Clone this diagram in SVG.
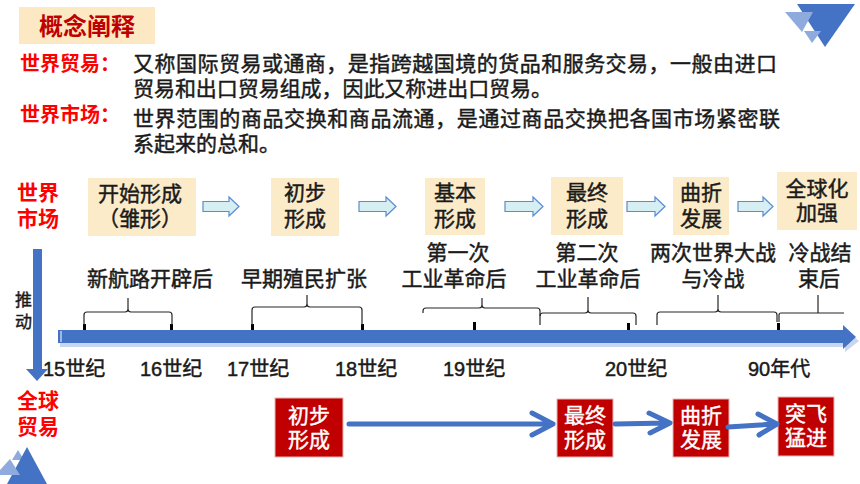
<svg xmlns="http://www.w3.org/2000/svg" width="860" height="484" viewBox="0 0 860 484">
<style>
text{font-family:'Liberation Sans','Noto Sans CJK SC',sans-serif;}
.t{font-size:21px;fill:#1a1a1a;stroke:#1a1a1a;stroke-width:0.45px;}
.red{font-size:20px;fill:#ff0000;font-weight:bold;}
.title{font-size:24px;fill:#c00000;font-weight:bold;}
.beige{fill:#fcebc8;}
.bt{font-size:21px;fill:#1a1a1a;stroke:#1a1a1a;stroke-width:0.45px;text-anchor:middle;}
.rbox{fill:#c00000;stroke:#eab4b4;stroke-width:1;}
.wt{font-size:21px;fill:#ffffff;stroke:#ffffff;stroke-width:0.4px;text-anchor:middle;}
.lab{font-size:21px;fill:#1a1a1a;stroke:#1a1a1a;stroke-width:0.45px;text-anchor:middle;}
.cen{font-size:20px;fill:#1a1a1a;stroke:#1a1a1a;stroke-width:0.45px;}
.brace{fill:none;stroke:#262626;stroke-width:1.2;}
.tick{fill:#000000;}
.hollow{fill:#d6eff2;stroke:#5b8bd0;stroke-width:1.2;}
.conn{fill:none;stroke:#4472c4;stroke-width:5;stroke-linecap:round;stroke-linejoin:round;}
.dark{fill:#4472c4;}
.light{fill:#8faadc;}
</style>

<!-- decorations -->
<g id="deco-top-right">
<polygon class="dark" points="797,4 855,4 825,47"/>
<polygon class="light" points="785,12 813,12 802,32"/>
<polygon class="light" points="804,31 821,31 812,43"/>
</g>
<g id="deco-bottom-left">
<polygon class="light" points="18,450 24,460 12,460"/>
<polygon class="dark" points="27,447 47,484 7,484"/>
<polygon class="light" points="10,459 20,475 0,475 0,470"/>
</g>

<!-- header -->
<g id="title">
<rect x="19" y="7" width="136" height="37" fill="#fce9c3"/>
<text class="title" x="87" y="35" text-anchor="middle">概念阐释</text>
</g>

<g id="definitions">
<text class="red" x="20" y="70.5">世界贸易：</text>
<text class="t" x="133" y="71" textLength="644" lengthAdjust="spacing">又称国际贸易或通商，是指跨越国境的货品和服务交易，一般由进口</text>
<text class="t" x="133" y="96" textLength="419" lengthAdjust="spacing">贸易和出口贸易组成，因此又称进出口贸易。</text>
<text class="red" x="20" y="121.5">世界市场：</text>
<text class="t" x="133" y="126" textLength="647" lengthAdjust="spacing">世界范围的商品交换和商品流通，是通过商品交换把各国市场紧密联</text>
<text class="t" x="133" y="151">系起来的总和。</text>
</g>

<!-- row labels -->
<g id="label-world-market">
<text class="red" x="17" y="200" style="font-size:21px">世界</text>
<text class="red" x="17" y="226" style="font-size:21px">市场</text>
</g>
<g id="label-global-trade">
<text class="red" x="17" y="408" style="font-size:21px">全球</text>
<text class="red" x="17" y="434" style="font-size:21px">贸易</text>
</g>

<!-- world market stages -->
<g id="stage-1">
<rect class="beige" x="88" y="178" width="108" height="58"/>
<text class="bt" x="140" y="201">开始形成</text>
<text class="bt" x="140" y="226">（雏形）</text>
</g>
<g id="stage-2">
<rect class="beige" x="271" y="178" width="68" height="58"/>
<text class="bt" x="305" y="200">初步</text>
<text class="bt" x="305" y="226">形成</text>
</g>
<g id="stage-3">
<rect class="beige" x="425" y="178" width="60" height="57"/>
<text class="bt" x="455" y="200">基本</text>
<text class="bt" x="455" y="226">形成</text>
</g>
<g id="stage-4">
<rect class="beige" x="551" y="177" width="72" height="58"/>
<text class="bt" x="587" y="200">最终</text>
<text class="bt" x="587" y="226">形成</text>
</g>
<g id="stage-5">
<rect class="beige" x="673" y="177" width="56" height="58"/>
<text class="bt" x="701" y="200">曲折</text>
<text class="bt" x="701" y="226">发展</text>
</g>
<g id="stage-6">
<rect class="beige" x="777" y="172" width="80" height="58"/>
<text class="bt" x="817" y="195.5">全球化</text>
<text class="bt" x="817" y="220">加强</text>
</g>

<!-- period labels -->
<g id="period-labels">
<text class="lab" x="150" y="285.5">新航路开辟后</text>
<text class="lab" x="304" y="285.5">早期殖民扩张</text>
<text class="lab" x="458" y="260">第一次</text>
<text class="lab" x="454" y="285.5">工业革命后</text>
<text class="lab" x="587" y="260">第二次</text>
<text class="lab" x="588" y="285.5">工业革命后</text>
<text class="lab" x="713" y="260">两次世界大战</text>
<text class="lab" x="713" y="285.5">与冷战</text>
<text class="lab" x="820" y="260">冷战结</text>
<text class="lab" x="819" y="285.5">束后</text>
</g>

<!-- push arrow -->
<g id="push-arrow">
<rect class="dark" x="33" y="249" width="9" height="121"/>
<polygon class="dark" points="26,369 48,369 37,381"/>
<text x="15" y="306" style="font-size:17px;fill:#1a1a1a;stroke:#1a1a1a;stroke-width:0.4px">推</text>
<text x="15" y="328" style="font-size:17px;fill:#1a1a1a;stroke:#1a1a1a;stroke-width:0.4px">动</text>
</g>

<!-- timeline -->
<g id="timeline">
<polygon fill="#c8d6f0" points="60,333 845,333 845,329 859,341 845,352 845,347 60,347"/>
<polygon class="dark" points="58,330 843,330 843,325 856,337 843,349 843,343 58,343"/>
<line x1="61" y1="331" x2="61" y2="342" stroke="#dfe8f7" stroke-width="1.2"/>
<rect class="tick" x="83" y="324" width="3" height="6"/>
<rect class="tick" x="170" y="324" width="3" height="6"/>
<rect class="tick" x="251" y="324" width="3" height="6"/>
<rect class="tick" x="361" y="324" width="3" height="6"/>
<rect class="tick" x="473" y="322" width="3" height="8"/>
<rect class="tick" x="627" y="323" width="3" height="7"/>
<rect class="tick" x="777" y="323" width="3" height="7"/>
<text class="cen" x="43" y="376">15世纪</text>
<text class="cen" x="140" y="376">16世纪</text>
<text class="cen" x="227" y="376">17世纪</text>
<text class="cen" x="335" y="376">18世纪</text>
<text class="cen" x="443" y="376">19世纪</text>
<text class="cen" x="605" y="376">20世纪</text>
<text class="cen" x="748" y="376">90年代</text>
</g>

<!-- braces -->
<g id="braces">
<path class="brace" d="M84,325 L84,315 Q84,312 87,312 L125,312 Q128,312 128,309 L128,298 M128,309 Q128,312 131,312 L169,312 Q172,312 172,315 L172,325"/>
<path class="brace" d="M252,325 L252,310 Q252,307 255,307 L304,307 Q307,307 307,304 L307,295 M307,304 Q307,307 310,307 L359,307 Q362,307 362,310 L362,325"/>
<path class="brace" d="M423,313 L423,311 Q423,308 426,308 L479,308 Q482,308 482,305 L482,298 M482,305 Q482,308 485,308 L537,308 Q540,308 540,311 L540,325"/>
<path class="brace" d="M540,316 Q540,313 543,313 L585,313 Q588,313 588,310 L588,297 M588,310 Q588,313 591,313 L633,313 Q636,313 636,316 L636,325"/>
<path class="brace" d="M657,325 L657,315 Q657,312 660,312 L715,312 Q718,312 718,309 L718,295 M718,309 Q718,312 721,312 L774,312 Q777,312 777,315 L777,322"/>
<path class="brace" d="M779,322 L779,315 Q779,313 781,313 L844,313 M818,313 L818,295"/>
</g>

<!-- hollow arrows (world market) -->
<g id="market-connectors">
<polygon class="hollow" points="203,201.5 229,201.5 229,197 239,206.5 229,216 229,211.5 203,211.5"/>
<polygon class="hollow" points="359,201.5 386,201.5 386,197 396,206.5 386,216 386,211.5 359,211.5"/>
<polygon class="hollow" points="505,201.5 533,201.5 533,197 543,206.5 533,216 533,211.5 505,211.5"/>
<polygon class="hollow" points="627,201.5 655,201.5 655,197 665,206.5 655,216 655,211.5 627,211.5"/>
<polygon class="hollow" points="738,201.5 763,201.5 763,197 773,206.5 763,216 763,211.5 738,211.5"/>
</g>

<!-- global trade stages -->
<g id="trade-1">
<rect class="rbox" x="275" y="398" width="68" height="59"/>
<text class="wt" x="309" y="422.5">初步</text>
<text class="wt" x="309" y="447">形成</text>
</g>
<g id="trade-2">
<rect class="rbox" x="557" y="399" width="56" height="58"/>
<text class="wt" x="585" y="423">最终</text>
<text class="wt" x="585" y="447">形成</text>
</g>
<g id="trade-3">
<rect class="rbox" x="673" y="399" width="56" height="58"/>
<text class="wt" x="701" y="423">曲折</text>
<text class="wt" x="701" y="447">发展</text>
</g>
<g id="trade-4">
<rect class="rbox" x="778" y="397" width="56" height="59"/>
<text class="wt" x="806" y="421">突飞</text>
<text class="wt" x="806" y="445">猛进</text>
</g>

<g id="trade-connectors">
<path class="conn" d="M349,424 L551,424 M532,413 L553,424 L532,435"/>
<path class="conn" d="M615,424 L668,423 M649,413 L670,423 L650,433"/>
<path class="conn" d="M728,427 L775,424 M758,414 L777,424 L759,435"/>
</g>
</svg>
